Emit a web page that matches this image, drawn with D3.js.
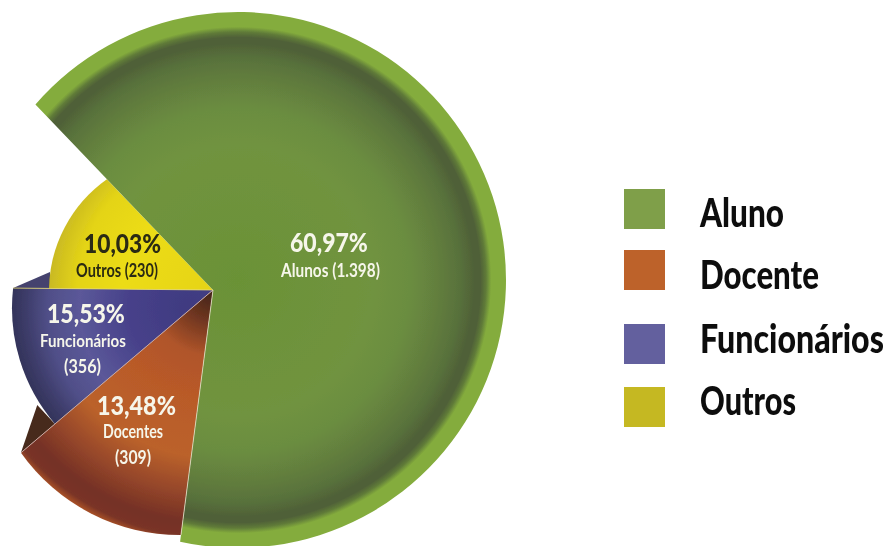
<!DOCTYPE html>
<html><head><meta charset="utf-8">
<script src="https://cdn.jsdelivr.net/npm/d3@7"></script>
<style>html,body{margin:0;padding:0;background:#fff}svg{display:block}</style>
</head><body><svg id="c" width="889" height="546"></svg>
<script>
const categories = ["Aluno","Docente","Funcionários","Outros"];
const swatchColors = ["#7f9f4a","#bd622a","#63609e","#c5b820"];
const percentLabels = ["60,97%","13,48%","15,53%","10,03%"];
const sliceNames = ["Alunos (1.398)","Docentes","Funcionários","Outros (230)"];
const countLabels = ["","(309)","(356)",""];
// Wedge sweep as drawn in the picture (degrees): the artwork does not follow the percentages exactly
const drawnSweep = [231.2,42.27,40.83,45.7];

const W=889,H=546, apex=[213,290], rad=Math.PI/180;
const svg=d3.select("#c"), defs=svg.append("defs");
defs.append("filter").attr("id","soft").attr("x","-5%").attr("y","-5%").attr("width","110%").attr("height","110%")
  .append("feGaussianBlur").attr("stdDeviation",0.7);
defs.append("filter").attr("id","softT").attr("x","-5%").attr("y","-20%").attr("width","110%").attr("height","140%")
  .append("feGaussianBlur").attr("stdDeviation",0.5);

// each wedge's outer rim is a circle of its own
const rims=[{c:[238,280],r:268},{c:[180,340],r:195},{c:[190,308],r:178},{c:[186,291],r:137}];
const pie=d3.pie().sort(null).startAngle(-43.75*rad).endAngle(316.25*rad);
const arcs=pie(drawnSweep);

function rayHit(angle,rim){
  const dx=Math.sin(angle),dy=-Math.cos(angle);
  const fx=apex[0]-rim.c[0],fy=apex[1]-rim.c[1];
  const b=fx*dx+fy*dy,c=fx*fx+fy*fy-rim.r*rim.r;
  const t=-b+Math.sqrt(b*b-c);
  return [apex[0]+dx*t,apex[1]+dy*t];
}
const polar=(deg,r)=>[apex[0]+Math.sin(deg*rad)*r,apex[1]-Math.cos(deg*rad)*r];
function wedge(a,rim){
  const s=rayHit(a.startAngle,rim),e=rayHit(a.endAngle,rim);
  const as=Math.atan2(s[1]-rim.c[1],s[0]-rim.c[0]),ae=Math.atan2(e[1]-rim.c[1],e[0]-rim.c[0]);
  const p=d3.path();p.moveTo(apex[0],apex[1]);p.lineTo(s[0],s[1]);
  p.arc(rim.c[0],rim.c[1],rim.r,as,ae,false);p.closePath();
  return {d:p.toString(),s,e};
}
function grad(id,c,r,stops){
  const g=defs.append("radialGradient").attr("id",id).attr("gradientUnits","userSpaceOnUse")
    .attr("cx",c[0]).attr("cy",c[1]).attr("r",r);
  stops.forEach(([o,col])=>g.append("stop").attr("offset",o).attr("stop-color",col));
}
grad("gG",rims[0].c,rims[0].r,[[0,"#6b9236"],[.50,"#70933f"],[.64,"#6b8d40"],[.74,"#637f3e"],[.83,"#58713b"],[.885,"#4f6038"],[.905,"#4f6038"],[.925,"#5f7a39"],[.945,"#84ac3c"],[1,"#84ac3c"]]);
grad("gO",apex,254,[[0,"#3f2418"],[.12,"#6e3520"],[.26,"#b0552a"],[.42,"#b95a28"],[.66,"#bb622b"],[.80,"#96472a"],[.92,"#743025"],[.975,"#7a3425"],[1,"#a44e28"]]);
grad("gP",rims[2].c,rims[2].r,[[0,"#3f3a80"],[.35,"#47418a"],[.62,"#5b5899"],[.80,"#504f88"],[.93,"#3c3b68"],[1,"#33345a"]]);
grad("gY",apex,165,[[0,"#e6d414"],[.55,"#ecdc14"],[.82,"#e4d416"],[1,"#c8b824"]]);

const fills=["url(#gG)","url(#gO)","url(#gP)","url(#gY)"];
const pie_g=svg.append("g").attr("filter","url(#soft)");
const shapes=arcs.map((a,i)=>wedge(a,rims[i]));

// folded ribbons behind the wedges
const line=d3.line();
const orangeFold=[shapes[2].s,polar(236.8,210),shapes[1].e];
const purpleFold=[shapes[2].e,polar(276.3,164),polar(270.5,163)];
pie_g.append("path").attr("d",line(orangeFold)+"Z").attr("fill","#46291b");
pie_g.append("path").attr("d",line(purpleFold)+"Z").attr("fill","#44436e");

pie_g.selectAll("path.w").data([1,2,3,0]).join("path").attr("class","w")
  .attr("d",i=>shapes[i].d).attr("fill",i=>fills[i]);
// pale seams between wedges
pie_g.append("path").attr("d",line([apex,shapes[1].e])).attr("stroke","#c8a8a0").attr("stroke-width",1).attr("fill","none");
pie_g.append("path").attr("d",line([apex,shapes[2].e])).attr("stroke","#e6d870").attr("stroke-width",.8).attr("fill","none");
pie_g.append("path").attr("d",line([apex,shapes[1].s])).attr("stroke","#e6e0c8").attr("stroke-width",.8).attr("fill","none");

const txt=svg.append("g").attr("filter","url(#softT)").attr("font-family","Lato, 'Open Sans', sans-serif");
// text is condensed to the reference's width by a horizontal scale measured from its natural width
function put(x,y,w,size,weight,col,s){
  const t=txt.append("text").attr("font-size",size).attr("font-weight",weight).attr("fill",col).text(s);
  const k=w/t.node().getComputedTextLength();
  t.attr("transform",`translate(${x},${y}) scale(${k},1)`);
}
const white="#f6f6ea",dark="#2b2a12";
put(290,252,78,26,900,white,percentLabels[0]);
put(281,277,99,18,700,white,sliceNames[0]);
put(84,253,77,26,900,dark,percentLabels[3]);
put(76,277,82,18,700,dark,sliceNames[3]);
put(47,323,78,26,900,white,percentLabels[2]);
put(40,347,86,18,700,white,sliceNames[2]);
put(64,373,37,18,700,white,countLabels[2]);
put(97,415,79,26,900,white,percentLabels[1]);
put(103,438,60,18,700,white,sliceNames[1]);
put(115,464,36,18,700,white,countLabels[1]);

// legend
const swatchY=[189,250,324,387], legendBase=[227,289,353,415], legendW=[84,119,184,96];
const leg=svg.append("g");
leg.selectAll("rect").data(categories).join("rect")
  .attr("x",624).attr("y",(d,i)=>swatchY[i]).attr("width",41).attr("height",40)
  .attr("fill",(d,i)=>swatchColors[i]).attr("filter","url(#softT)");
categories.forEach((c,i)=>put(700,legendBase[i],legendW[i],39,900,"#111",c));
</script></body></html>
